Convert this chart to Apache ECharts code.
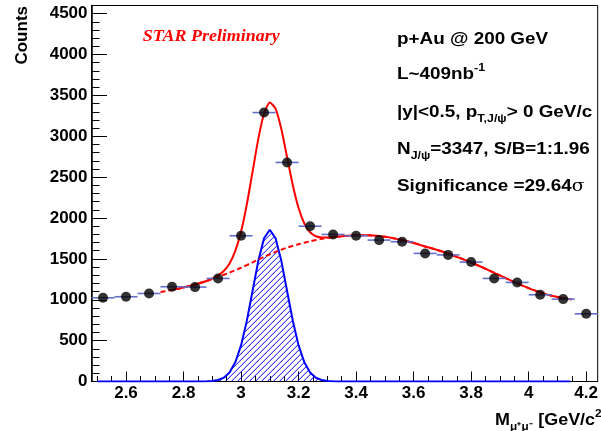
<!DOCTYPE html>
<html><head><meta charset="utf-8">
<script src="https://cdn.jsdelivr.net/npm/echarts@6/dist/echarts.min.js"></script>
<style>html,body{margin:0;padding:0;background:#fff}#c{width:601px;height:431px}</style>
</head><body><div id="c"></div>
<script>
// ---- data ----
const binCenters = [2.52,2.60,2.68,2.76,2.84,2.92,3.00,3.08,3.16,3.24,3.32,3.40,3.48,3.56,3.64,3.72,3.80,3.88,3.96,4.04,4.12,4.20];
const counts     = [1024,1037,1077,1159,1155,1261,1783,3290,2680,1900,1799,1783,1730,1710,1567,1549,1461,1261,1212,1061,1008,828];
const binHalfWidth = 0.04;

// total fit (signal + background), solid red
const fitX = [2.76,2.80,2.84,2.88,2.90,2.92,2.94,2.96,2.98,3.00,3.02,3.04,3.06,3.08,3.10,3.12,3.14,3.16,3.18,3.20,3.22,3.24,3.26,3.28,3.30,3.32,3.36,3.40,3.44,3.48,3.52,3.56,3.60,3.64,3.68,3.72,3.76,3.80,3.84,3.88,3.92,3.96,4.00,4.04,4.08,4.12,4.15];
const fitY = [1120,1150,1186,1230,1258,1298,1352,1443,1597,1834,2166,2565,2968,3278,3413,3339,3089,2745,2401,2122,1933,1826,1777,1763,1761,1767,1780,1788,1788,1780,1760,1730,1695,1652,1612,1565,1512,1456,1395,1330,1265,1200,1142,1090,1050,1020,1002];

// background fit, dashed red
const bkgX = [2.72,2.76,2.80,2.84,2.88,2.92,2.96,3.00,3.04,3.08,3.12,3.16,3.20,3.24,3.28,3.32,3.36,3.40,3.44,3.48,3.52,3.56,3.60,3.64,3.68,3.72,3.76,3.80,3.84,3.88,3.92,3.96,4.00,4.04,4.08,4.12,4.15];
const bkgY = [1095,1120,1150,1186,1230,1280,1332,1392,1458,1525,1586,1638,1680,1715,1745,1765,1780,1788,1788,1780,1760,1730,1695,1652,1612,1565,1512,1456,1395,1330,1265,1200,1142,1090,1050,1020,1002];

// J/psi signal shape, blue hatched
const sigX = [2.50,2.84,2.86,2.88,2.90,2.92,2.94,2.96,2.98,3.00,3.02,3.04,3.06,3.08,3.10,3.12,3.14,3.16,3.18,3.20,3.22,3.24,3.26,3.28,3.30,3.32,3.34,3.36,4.145];
const sigY = [0,0,1,2,6,18,47,111,235,442,741,1107,1476,1753,1857,1753,1476,1107,741,442,235,111,47,18,6,2,1,0,0];

const xTickLabels = [2.6,2.8,3.0,3.2,3.4,3.6,3.8,4.0,4.2];
const xMinorTicks = [2.50,2.55,2.60,2.65,2.70,2.75,2.80,2.85,2.90,2.95,3.00,3.05,3.10,3.15,3.20,3.25,3.30,3.35,3.40,3.45,3.50,3.55,3.60,3.65,3.70,3.75,3.80,3.85,3.90,3.95,4.00,4.05,4.10,4.15,4.20];
const yTickLabels = [0,500,1000,1500,2000,2500,3000,3500,4000,4500];
const yMinorTicks = [0,100,200,300,400,500,600,700,800,900,1000,1100,1200,1300,1400,1500,1600,1700,1800,1900,2000,2100,2200,2300,2400,2500,2600,2700,2800,2900,3000,3100,3200,3300,3400,3500,3600,3700,3800,3900,4000,4100,4200,4300,4400,4500,4600];

// ---- chart ----
const SANS = 'Liberation Sans, Arial, Helvetica, sans-serif';
function zip(a,b){ return a.map((v,i)=>[v,b[i]]); }

// hatch ("/" lines) inside the signal area, clipped to the curve in pixel space
function renderHatch(params, api){
  const pts = sigX.map((x,i)=>api.coord([x, sigY[i]]));
  const base = api.coord([sigX[0], 0])[1];
  function curveY(px){
    for (let i=1;i<pts.length;i++){
      if (px <= pts[i][0]){
        const a=pts[i-1], b=pts[i];
        const t=(px-a[0])/((b[0]-a[0])||1);
        return a[1]+t*(b[1]-a[1]);
      }
    }
    return base;
  }
  const x0 = pts[0][0], x1 = pts[pts.length-1][0];
  const children = [];
  const step = 0.25, spacing = 6;
  for (let c = x0 - 400; c <= x1; c += spacing){
    let start = null, prev = null;
    for (let px = Math.max(x0, c); px <= Math.min(x1, c + 400); px += step){
      const ly = base - (px - c);
      const inside = ly <= base - 0.5 && ly >= curveY(px);
      if (inside && start === null) start = [px, ly];
      if (!inside && start !== null){
        children.push({type:'line', shape:{x1:start[0], y1:start[1], x2:prev[0], y2:prev[1]},
          style:{stroke:'#0000ff', lineWidth:1}});
        start = null;
      }
      prev = [px, ly];
    }
    if (start !== null) children.push({type:'line', shape:{x1:start[0], y1:start[1], x2:prev[0], y2:prev[1]},
          style:{stroke:'#0000ff', lineWidth:1}});
  }
  return {type:'group', children:children};
}

const chart = echarts.init(document.getElementById('c'), null, {renderer:'canvas'});
const tf = (size, w) => ({fontFamily:SANS, fontWeight:w||'bold', fontSize:size, fill:'#000'});
const annoRich = {
  sub:Object.assign(tf(10.5),{verticalAlign:'bottom'}),
  sup:Object.assign(tf(10.5),{verticalAlign:'top'}),
  sig:Object.assign(tf(16,'normal'),{fontFamily:'DejaVu Serif, serif'})
};
function anno(y, text){
  return {type:'text', x:397, y:y, scaleX:1.18, z:100,
    style:Object.assign(tf(16),{text:text, rich:annoRich, lineHeight:24, align:'left', verticalAlign:'middle'})};
}
const plain = v => String(v);
const option = {
  animation:false,
  backgroundColor:'#fff',
  grid:{left:91.5, top:5.5, right:-8, bottom:49.5, show:true, borderColor:'#000', borderWidth:1, backgroundColor:'transparent'},
  xAxis:[
    {type:'value', min:2.48, max:4.24, position:'bottom',
     axisLine:{show:true, onZero:false, lineStyle:{color:'#000', width:1}},
     axisTick:{show:true, inside:true, length:10, customValues:xTickLabels, lineStyle:{color:'#000', width:1}},
     axisLabel:{show:true, customValues:xTickLabels, formatter:plain, margin:3, color:'#000', fontFamily:SANS, fontWeight:'bold', fontSize:17},
     splitLine:{show:false}},
    {type:'value', min:2.48, max:4.24, position:'bottom',
     axisLine:{show:false, onZero:false},
     axisTick:{show:true, inside:true, length:5.5, customValues:xMinorTicks, lineStyle:{color:'#000', width:1}},
     axisLabel:{show:false}, splitLine:{show:false}}
  ],
  yAxis:[
    {type:'value', min:0, max:4600, position:'left',
     axisLine:{show:true, onZero:false, lineStyle:{color:'#000', width:1.5}},
     axisTick:{show:true, inside:true, length:15.5, customValues:yTickLabels, lineStyle:{color:'#000', width:1}},
     axisLabel:{show:true, customValues:yTickLabels, formatter:plain, margin:4, color:'#000', fontFamily:SANS, fontWeight:'bold', fontSize:17},
     splitLine:{show:false}},
    {type:'value', min:0, max:4600, position:'left',
     axisLine:{show:false, onZero:false},
     axisTick:{show:true, inside:true, length:8, customValues:yMinorTicks, lineStyle:{color:'#000', width:1}},
     axisLabel:{show:false}, splitLine:{show:false}}
  ],
  series:[
    {type:'custom', name:'hatch', z:1, data:[[sigX[0],0]], encode:{x:0,y:1}, renderItem:renderHatch, silent:true},
    {type:'line', name:'signal', data:zip(sigX,sigY), showSymbol:false, symbol:'none', z:2,
     lineStyle:{color:'#0000ff', width:2}},
    {type:'line', name:'bkg', data:zip(bkgX,bkgY), showSymbol:false, symbol:'none', smooth:0.3, z:3,
     lineStyle:{color:'#ff0000', width:2, type:[5,3]}},
    {type:'line', name:'fit', data:zip(fitX,fitY), showSymbol:false, symbol:'none', smooth:0.2, z:4,
     lineStyle:{color:'#ff0000', width:2}},
    {type:'custom', name:'xerr', z:5, data:zip(binCenters,counts), encode:{x:0,y:1},
     renderItem:function(params, api){
       const x=api.value(0), y=api.value(1);
       const p1=api.coord([x-binHalfWidth,y]), p2=api.coord([x+binHalfWidth,y]);
       return {type:'line', shape:{x1:p1[0],y1:p1[1],x2:p2[0],y2:p2[1]},
               style:{stroke:'#6470c8', lineWidth:1.6}};
     }},
    {type:'scatter', name:'data', data:zip(binCenters,counts), symbol:'circle', symbolSize:10, z:6,
     itemStyle:{color:'#000'}}
  ],
  graphic:[
    {type:'text', x:22, y:6, rotation:Math.PI/2, z:100,
     style:Object.assign(tf(17),{text:'Counts', align:'right', verticalAlign:'middle'})},
    {type:'text', x:142.7, y:37, scaleX:1.12, z:100,
     style:{text:'STAR Preliminary', fontFamily:'Liberation Serif, Times New Roman, serif', fontWeight:'bold', fontStyle:'italic', fontSize:16, fill:'#ff0000', align:'left', verticalAlign:'middle'}},
    anno(40, 'p+Au @ 200 GeV'),
    anno(75, 'L~409nb{sup|-1}'),
    anno(113, '|y|<0.5, p{sub|T,J/ψ}> 0 GeV/c'),
    anno(150, 'N{sub|J/ψ}=3347, S/B=1:1.96'),
    anno(187, 'Significance =29.64{sig|σ}'),
    {type:'text', x:495, y:421, scaleX:1.12, z:100,
     style:Object.assign(tf(16),{text:'M{sub|μ⁺μ⁻} [GeV/c{sup|2}]', rich:annoRich, lineHeight:24, align:'left', verticalAlign:'middle'})}
  ]
};
chart.setOption(option);
</script></body></html>
